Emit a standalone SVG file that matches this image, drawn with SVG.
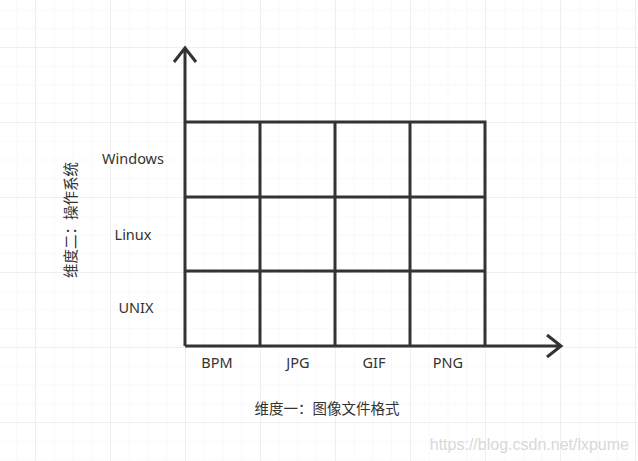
<svg xmlns="http://www.w3.org/2000/svg" width="638" height="461" viewBox="0 0 638 461">
<defs>
<pattern id="minor" width="18.75" height="18.75" patternUnits="userSpaceOnUse" x="35" y="47"><path d="M0 0H18.75M0 0V18.75" fill="none" stroke="#f3f3f3" stroke-width="1"/></pattern>
<pattern id="major" width="75" height="75" patternUnits="userSpaceOnUse" x="35" y="47"><path d="M0 0H75M0 0V75" fill="none" stroke="#e6e6e6" stroke-width="1"/></pattern>
</defs>
<style>
.ln{stroke:#333;stroke-width:3;fill:none}
.t{font-family:"Noto Sans","Noto Sans CJK SC",sans-serif;font-size:14.5px;fill:#333;text-anchor:middle}
</style>
<rect width="638" height="461" fill="#fff"/>
<rect width="638" height="461" fill="url(#minor)"/>
<rect width="638" height="461" fill="url(#major)"/>
<g id="connectors">
<path class="ln" d="M185 346V48M174 62L185 48L196 62"/>
<path class="ln" d="M185 346H561M547 335L561 346L547 357"/>
</g>
<g id="grid">
<path class="ln" d="M185 122H485V346M185 197H485M185 271H485M260 122V346M335 122V346M410 122V346"/>
</g>
<g id="labels">
<text class="t" x="133" y="164">Windows</text>
<text class="t" x="133" y="240">Linux</text>
<text class="t" x="136" y="313">UNIX</text>
<text class="t" x="217" y="368">BPM</text>
<text class="t" x="298" y="368">JPG</text>
<text class="t" x="374" y="368">GIF</text>
<text class="t" x="448" y="368">PNG</text>
<text class="t" x="327" y="414">维度一：图像文件格式</text>
<text class="t" transform="translate(76,220) rotate(-90)">维度二：操作系统</text>
<text x="629" y="450" style="font-family:'Liberation Sans',sans-serif;font-size:16px;fill:#d8d8d8;text-anchor:end">https://blog.csdn.net/lxpume</text>
</g>
</svg>
